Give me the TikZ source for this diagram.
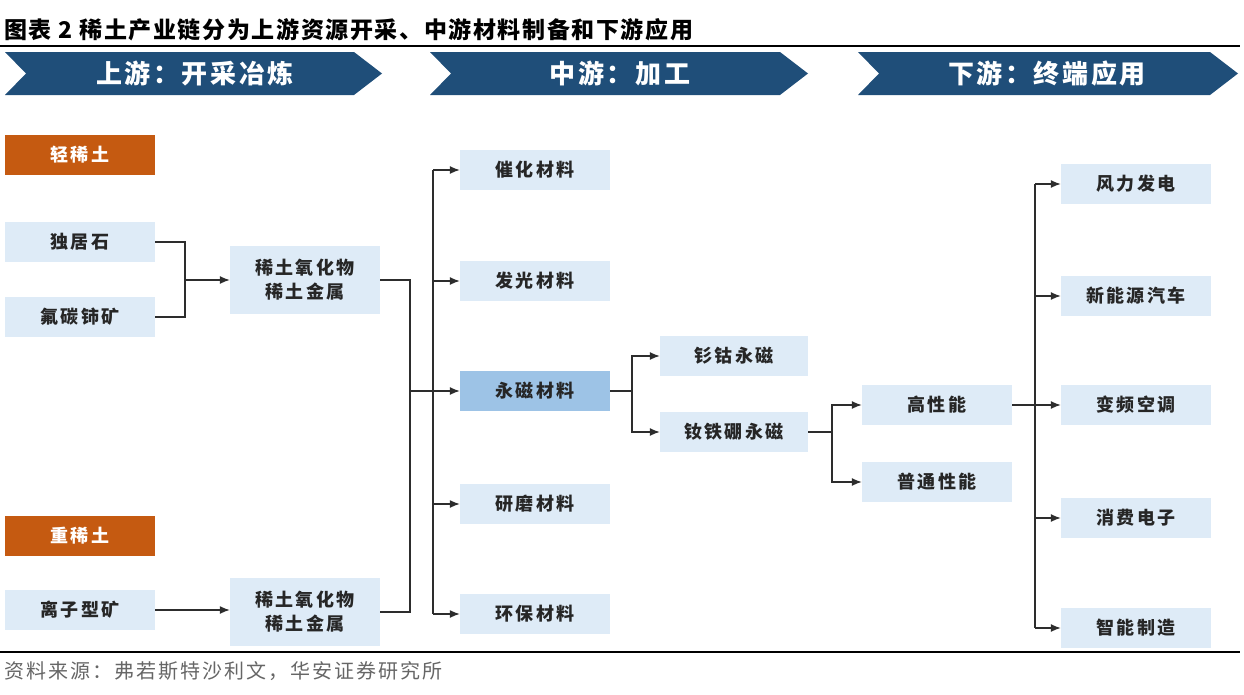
\documentclass[tikz,border=0pt]{standalone}
\usepackage{fontspec}
\newfontfamily\cjk{Noto Sans CJK SC}
\newfontfamily\cjkbox[LetterSpace=12]{Noto Sans CJK SC}
\newfontfamily\cjkhead[LetterSpace=10]{Noto Sans CJK SC}
\newfontfamily\cjktitle[LetterSpace=7]{Noto Sans CJK SC}
\newfontfamily\cjksrc[LetterSpace=10]{Noto Sans CJK SC}
\usetikzlibrary{arrows.meta}
\definecolor{navy}{RGB}{31,78,121}
\definecolor{boxblue}{RGB}{222,235,247}
\definecolor{midblue}{RGB}{157,195,230}
\definecolor{rust}{RGB}{197,90,17}
\definecolor{lineclr}{RGB}{45,45,45}
\begin{document}
\begin{tikzpicture}[x=1pt,y=-1pt,
  box/.style={fill=boxblue, minimum width=150pt, minimum height=40pt, inner sep=0pt,
    align=center, font=\cjkbox\bfseries\fontsize{18}{24}\selectfont, text=black!85},
  hdr/.style={box, fill=rust, text=white},
  chev/.style={fill=navy},
  chevtext/.style={text=white, font=\cjkhead\bfseries\fontsize{26}{30}\selectfont},
  conn/.style={draw=lineclr, line width=1.3pt},
  arr/.style={conn, -{Latex[length=10pt,width=8pt]}}]
\useasboundingbox (0,0) rectangle (1244,694);

% title
\node[anchor=west, inner sep=0pt, font=\cjktitle\bfseries\fontsize{23}{26}\selectfont] (title) at (4,30)
  {图表 2 稀土产业链分为上游资源开采、中游材料制备和下游应用};
\draw[line width=2pt] (0,46) -- (1240,46);

% chevrons
\fill[chev] (5,52) -- (354,52) -- (382,73.5) -- (354,95) -- (5,95) -- (26,73.5) -- cycle;
\node[chevtext] (h1) at (195,73.5) {上游：开采冶炼};
\fill[chev] (430,52) -- (780,52) -- (808,73.5) -- (780,95) -- (430,95) -- (451,73.5) -- cycle;
\node[chevtext] (h2) at (620,73.5) {中游：加工};
\fill[chev] (858,52) -- (1210,52) -- (1238,73.5) -- (1210,95) -- (858,95) -- (879,73.5) -- cycle;
\node[chevtext] (h3) at (1047,73.5) {下游：终端应用};

% upstream
\node[hdr] (light) at (80,155) {轻稀土};
\node[box] (dj) at (80,242) {独居石};
\node[box] (fl) at (80,317) {氟碳铈矿};
\node[box, minimum height=68pt] (ox1) at (305,280) {稀土氧化物\\稀土金属};
\node[hdr] (heavy) at (80,536) {重稀土};
\node[box] (lz) at (80,610) {离子型矿};
\node[box, minimum height=68pt] (ox2) at (305,612) {稀土氧化物\\稀土金属};

% midstream
\node[box] (ch) at (535,170) {催化材料};
\node[box] (fg) at (535,281) {发光材料};
\node[box, fill=midblue] (ym) at (535,391) {永磁材料};
\node[box] (ym2) at (535,504) {研磨材料};
\node[box] (hb) at (535,614) {环保材料};
\node[box, minimum width=148pt] (sm) at (734,356) {钐钴永磁};
\node[box, minimum width=148pt] (nd) at (734,432) {钕铁硼永磁};

% downstream
\node[box] (gx) at (937,405) {高性能};
\node[box] (pt) at (937,482) {普通性能};
\node[box] (fd) at (1136,184) {风力发电};
\node[box] (xny) at (1136,296) {新能源汽车};
\node[box] (bp) at (1136,405) {变频空调};
\node[box] (xf) at (1136,518) {消费电子};
\node[box] (zn) at (1136,628) {智能制造};

% source
\draw[line width=2pt] (0,652) -- (1240,652);
\node[anchor=west, inner sep=0pt, text=black!60, font=\cjksrc\fontsize{20}{24}\selectfont] (src) at (4,671)
  {资料来源：弗若斯特沙利文，华安证券研究所};

% connectors upstream
\coordinate (j1) at (185,280);
\draw[conn] (dj.east) -| (j1) |- (fl.east);
\draw[arr] (j1) -- (ox1.west);
\draw[arr] (lz.east) -- (lz.east -| ox2.west);
\coordinate (j2) at (410,391);
\draw[conn] (ox1.east) -| (j2) |- (ox2.east);
\draw[arr] (j2) -- (ym.west);

% bus to midstream materials
\coordinate (b2t) at (433,170);
\coordinate (b2b) at (433,614);
\draw[conn] (b2t) -- (b2b);
\draw[arr] (b2t) -- (ch.west);
\draw[arr] (b2t |- fg.west) -- (fg.west);
\draw[arr] (b2t |- ym2.west) -- (ym2.west);
\draw[arr] (b2b) -- (hb.west);

% magnet split
\coordinate (j3) at (632,391);
\draw[conn] (ym.east) -- (j3);
\draw[arr] (j3) |- (sm.west);
\draw[arr] (j3) |- (nd.west);

\coordinate (j4) at (832,432);
\draw[conn] (nd.east) -- (j4);
\draw[arr] (j4) |- (gx.west);
\draw[arr] (j4) |- (pt.west);

% downstream bus
\coordinate (b3t) at (1035,184);
\coordinate (b3b) at (1035,628);
\draw[conn] (b3t) -- (b3b);
\draw[arr] (gx.east) -- (bp.west);
\draw[arr] (b3t) -- (fd.west);
\draw[arr] (b3t |- xny.west) -- (xny.west);
\draw[arr] (b3t |- xf.west) -- (xf.west);
\draw[arr] (b3b) -- (zn.west);
\end{tikzpicture}
\end{document}
